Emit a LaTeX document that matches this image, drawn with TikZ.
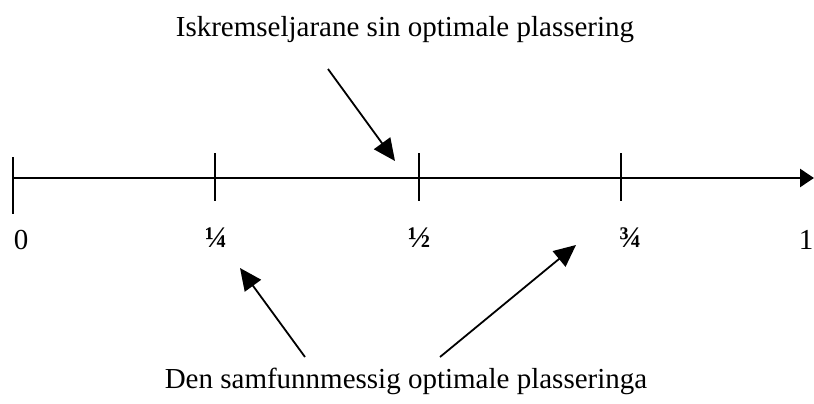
\documentclass[tikz,border=0pt]{standalone}
\usepackage{fontspec}
\setmainfont{Liberation Serif}
\usetikzlibrary{arrows.meta}
\begin{document}
\begin{tikzpicture}[x=1pt,y=-1pt,
  axisline/.style={line width=2.6pt},
  tickline/.style={line width=2pt},
  pointer/.style={line width=1.8pt,-{Triangle[length=22pt,width=20pt]}},
  lbl/.style={font=\fontsize{29}{32}\selectfont,inner sep=0pt},
  frac/.style={font=\fontsize{30}{32}\selectfont\bfseries,inner sep=0pt},
  title/.style={font=\fontsize{29}{32}\selectfont,inner sep=0pt}]
\useasboundingbox (0,0) rectangle (814,404);
% axis
\coordinate (a0) at (13,178);
\coordinate (aend) at (814,178);
\draw[axisline,-{Triangle[length=14pt,width=18pt]}] (a0) -- (aend);
\coordinate (t0t) at (13,157); \coordinate (t0b) at (13,214);
\draw[tickline] (t0t) -- (t0b);
\foreach \x/\n in {215/t1,419/t2,621/t3}{
  \coordinate (\n t) at (\x,153); \coordinate (\n b) at (\x,201);
  \draw[tickline] (\n t) -- (\n b);
}
% labels
\node[lbl] (l0) at (21,240) {0};
\node[frac] (l1) at (216,238) {¼};
\node[frac] (l2) at (419,238) {½};
\node[frac] (l3) at (630,238) {¾};
\node[lbl] (l4) at (806,240) {1};
% titles
\node[title] (top) at (405,30) {Iskremseljarane sin optimale plassering};
\node[title] (bot) at (406,381) {Den samfunnmessig optimale plasseringa};
% pointers
\coordinate (p1s) at (328,69); \coordinate (p1e) at (395,161);
\draw[pointer] (p1s) -- (p1e);
\coordinate (p2s) at (305,357); \coordinate (p2e) at (240,268);
\draw[pointer] (p2s) -- (p2e);
\coordinate (p3s) at (440,357); \coordinate (p3e) at (576,245);
\draw[pointer] (p3s) -- (p3e);
\end{tikzpicture}
\end{document}
